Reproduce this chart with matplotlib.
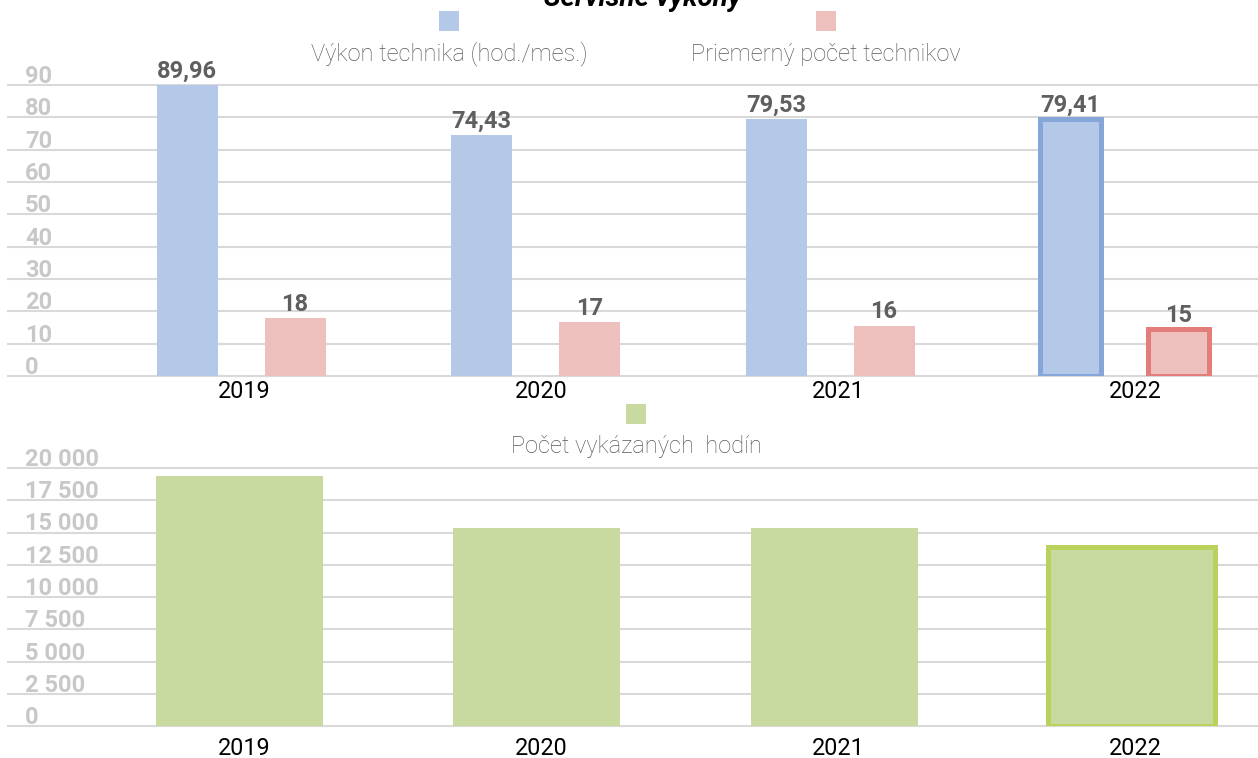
import matplotlib
matplotlib.use("Agg")
import matplotlib.pyplot as plt
from matplotlib.patches import Rectangle
from matplotlib.transforms import blended_transform_factory, offset_copy

# ---- data ----
years = ["2019", "2020", "2021", "2022"]
vykon = [89.96, 74.43, 79.53, 79.41]            # hod./mes.
technici = [17.9, 16.6, 15.6, 14.6]            # average number of technicians
hodiny = [19400, 15350, 15350, 13850]          # reported hours

top_ticks = [0, 10, 20, 30, 40, 50, 60, 70, 80, 90]
top_tick_labels = ["0", "10", "20", "30", "40", "50", "60", "70", "80", "90"]
bot_ticks = [0, 2500, 5000, 7500, 10000, 12500, 15000, 17500, 20000]
bot_tick_labels = ["0", "2 500", "5 000", "7 500", "10 000", "12 500",
                   "15 000", "17 500", "20 000"]

legend_top = ["Výkon technika (hod./mes.)", "Priemerný počet technikov"]
legend_bot = "Počet vykázaných  hodín"
title = "Servisné výkony"

# ---- style ----
BLUE, BLUE_EDGE = "#B4C8E7", "#86A6D9"
PINK, PINK_EDGE = "#EDC0BE", "#E27D79"
GREEN, GREEN_EDGE = "#C8DA9F", "#B9D25C"
GRID = "#D9D9D9"
TICK_C = "#C8C8C8"
LABEL_C = "#5F5F5F"
FONT = ["Roboto", "DejaVu Sans"]
plt.rcParams["font.family"] = FONT

W, H = 1258, 758
fig = plt.figure(figsize=(W / 100, H / 100), dpi=100)


def px_axes(left, top, right, bottom):
    return fig.add_axes([left / W, 1 - bottom / H, (right - left) / W, (bottom - top) / H])


AX_L, AX_R = 8, 1258
ax1 = px_axes(AX_L, 85, AX_R, 376)
ax2 = px_axes(AX_L, 468, AX_R, 726)
xs = list(range(len(years)))

# category label placement (pixels): first centre and spacing
LBL_X0, LBL_STEP = 244.0, 297.0


def style_axes(ax, ticks, labels, ymax, label_pad, bar_x0, bar_step):
    # bars sit at integer positions laid out with bar_x0/bar_step
    ax.set_xlim((AX_L - bar_x0) / bar_step, (AX_R - bar_x0) / bar_step)
    ax.set_ylim(0, ymax)
    for s in ax.spines.values():
        s.set_visible(False)
    ax.set_yticks([])
    for t in ticks:
        ax.axhline(t, color=GRID, lw=1.5, zorder=0, clip_on=False)
    tr = blended_transform_factory(ax.transAxes, ax.transData)
    tr = offset_copy(tr, fig=fig, x=0, y=-3, units="dots")
    for t, lab in zip(ticks, labels):
        ax.text(17 / (AX_R - AX_L), t, lab, transform=tr, ha="left", va="bottom",
                fontsize=17, fontweight="bold", color=TICK_C)
    tick_pos = [(LBL_X0 + LBL_STEP * i - bar_x0) / bar_step for i in xs]
    ax.set_xticks(tick_pos)
    ax.set_xticklabels(years, fontsize=16.8, color="#000000")
    ax.tick_params(axis="x", length=0, pad=label_pad)
    return bar_step


st1 = style_axes(ax1, top_ticks, top_tick_labels, 90, 3.0, 241.0, 294.5)
st2 = style_axes(ax2, bot_ticks, bot_tick_labels, 20000, 8.0, 239.0, 297.5)

# ---- top panel: grouped bars ----
off = 54 / st1
bw = 61 / st1
last = len(years) - 1
b1 = ax1.bar([x - off for x in xs], vykon, width=bw, color=BLUE, zorder=2)
b2 = ax1.bar([x + off for x in xs], technici, width=bw, color=PINK, zorder=2)
b1[last].set_edgecolor(BLUE_EDGE)
b1[last].set_linewidth(3.6)
b2[last].set_edgecolor(PINK_EDGE)
b2[last].set_linewidth(3.6)

lab1 = [f"{v:.2f}".replace(".", ",") for v in vykon]
lab2 = [f"{v:.0f}" for v in technici]
ax1.bar_label(b1, labels=lab1, padding=1.5, fontsize=17, fontweight="bold",
              color=LABEL_C, clip_on=False)
ax1.bar_label(b2, labels=lab2, padding=1.5, fontsize=17, fontweight="bold",
              color=LABEL_C, clip_on=False)

# ---- bottom panel ----
b3 = ax2.bar(xs, hodiny, width=167 / st2, color=GREEN, zorder=2)
b3[last].set_edgecolor(GREEN_EDGE)
b3[last].set_linewidth(3.6)

# ---- legends ----
def legend_item(cx, sq_top, text_cy, color, text):
    fig.patches.append(Rectangle(((cx - 10) / W, 1 - (sq_top + 20) / H), 20 / W, 20 / H,
                                 transform=fig.transFigure, facecolor=color,
                                 edgecolor="none"))
    fig.text(cx / W, 1 - text_cy / H, text, ha="center", va="center",
             fontsize=17, fontweight="light", color="#595959")


legend_item(449, 11, 54, BLUE, legend_top[0])
legend_item(826, 11, 54, PINK, legend_top[1])
legend_item(636, 404, 446, GREEN, legend_bot)

fig.text(643 / W, 1 - 6 / H, title, ha="center", va="baseline", fontsize=20,
         fontweight="bold", fontstyle="italic", color="#000000")

fig.savefig("out.png", dpi=100)
